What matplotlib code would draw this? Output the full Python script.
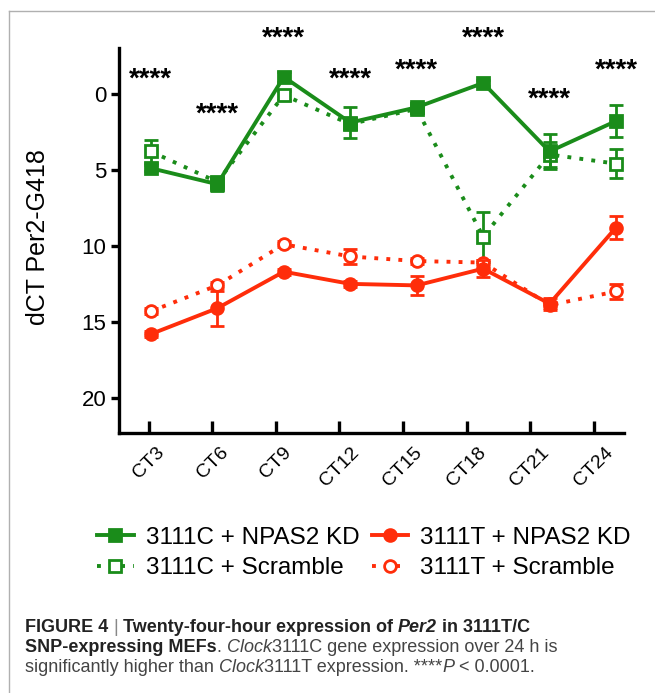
import numpy as np
import matplotlib
matplotlib.use("Agg")
import matplotlib.pyplot as plt
from matplotlib.lines import Line2D
from matplotlib.font_manager import FontProperties

plt.rcParams.update({
    "font.family": ["Liberation Sans", "DejaVu Sans"],
    "figure.dpi": 100,
})

W, H = 655, 693

# data (dCT, lower = higher expression)
times = ["CT3", "CT6", "CT9", "CT12", "CT15", "CT18", "CT21", "CT24"]

c_kd = [4.9, 5.95, -1.1, 1.9, 0.9, -0.7, 3.8, 1.8]
c_kd_err = [0.2, 0.45, 0.35, 1.0, 0.3, 0.2, 1.15, 1.05]
c_scr = [3.8, 5.8, 0.1, 2.0, 1.0, 9.4, 4.0, 4.6]
c_scr_err = [0.75, 0.3, 0.3, 0.3, 0.3, 1.65, 0.85, 0.95]

t_kd = [15.8, 14.1, 11.7, 12.5, 12.6, 11.5, 13.8, 8.8]
t_kd_err = [0.2, 1.15, 0.2, 0.2, 0.65, 0.55, 0.4, 0.75]
t_scr = [14.3, 12.6, 9.9, 10.7, 11.0, 11.1, 13.9, 13.0]
t_scr_err = [0.2, 0.2, 0.2, 0.5, 0.2, 0.2, 0.2, 0.5]

# height of the **** marks for each time point
star_y = [-0.9, 1.4, -3.6, -0.9, -1.5, -3.6, 0.4, -1.5]

GREEN = "#1a8c1a"
RED = "#ff2d0a"


def px(x, y):
    return x / W, 1 - y / H


fig = plt.figure(figsize=(W / 100, H / 100), dpi=100)

# frame of the figure panel (top and left edges only)
fig.add_artist(Line2D([9 / W, 1], [1 - 11 / H] * 2, color="#b0b0b0", lw=1.0))
fig.add_artist(Line2D([9 / W] * 2, [0, 1 - 11 / H], color="#b0b0b0", lw=1.0))

left, right, top, bottom = 119, 624, 48, 433
ax = fig.add_axes([left / W, 1 - bottom / H, (right - left) / W, (bottom - top) / H])

x = np.arange(len(times))
dot = (0, (1.0, 2.1))

# (values, errors, colour, linestyle, marker, face, label, z-order)
series = [
    (c_kd, c_kd_err, GREEN, "-", "s", GREEN, "3111C + NPAS2 KD", 6),
    (c_scr, c_scr_err, GREEN, dot, "s", "white", "3111C + Scramble", 4),
    (t_kd, t_kd_err, RED, "-", "o", RED, "3111T + NPAS2 KD", 6),
    (t_scr, t_scr_err, RED, dot, "o", "white", "3111T + Scramble", 4),
]

handles = []
for vals, err, col, ls, mk, face, lab, z in series:
    ax.errorbar(x, vals, yerr=err, fmt="none", ecolor=col, elinewidth=2,
                capsize=5, capthick=2, zorder=z - 1)
    line, = ax.plot(x, vals, color=col, linestyle=ls, lw=2.8,
                    dash_capstyle="butt", marker=mk, markersize=8.5,
                    markerfacecolor=face, markeredgecolor=col,
                    markeredgewidth=2, zorder=z, label=lab)
    handles.append(line)

for xi, sy in zip(x, star_y):
    ax.text(xi, sy, "****", ha="center", va="center", fontsize=20,
            fontweight="bold", clip_on=False)

ax.set_xlim(-0.48, 7.12)
ax.set_ylim(22.3, -3.0)

ax.spines["top"].set_visible(False)
ax.spines["right"].set_visible(False)
ax.spines["left"].set_linewidth(2.4)
ax.spines["bottom"].set_linewidth(2.4)

# tick marks in the original sit a bit off the data points
ax.set_xticks(x * 0.956 - 0.03)
ax.set_xticklabels(times, rotation=45, ha="center", va="top", fontsize=14)
ax.set_yticks([0, 5, 10, 15, 20])
ax.tick_params(axis="y", direction="out", length=6, width=2.4, labelsize=16, pad=3)
ax.tick_params(axis="x", direction="in", length=9, width=2.4, pad=8)

ax.set_ylabel("dCT Per2-G418", fontsize=18)
ax.yaxis.set_label_coords(-0.137, 0.51)

fig.legend(handles=handles, ncol=2, loc="center", bbox_to_anchor=px(364, 553),
           frameon=False, fontsize=17.5, handlelength=1.5, handletextpad=0.5,
           columnspacing=0.5, labelspacing=0.35)

# caption with mixed styles, placed run by run along a shared baseline
fig.canvas.draw()
renderer = fig.canvas.get_renderer()
CAP_SIZE = 13


def run_width(txt, weight, style):
    prop = FontProperties(family=["Liberation Sans"], size=CAP_SIZE,
                          weight=weight, style=style)
    w1, _, _ = renderer.get_text_width_height_descent("|" + txt + "|", prop, ismath=False)
    w0, _, _ = renderer.get_text_width_height_descent("||", prop, ismath=False)
    return w1 - w0


caption = [
    (632, [("FIGURE 4 ", "bold", "normal", "#222222"),
           ("|", "normal", "normal", "#888888"),
           (" Twenty-four-hour expression of ", "bold", "normal", "#222222"),
           ("Per2", "bold", "italic", "#222222"),
           (" in 3111T/C", "bold", "normal", "#222222")]),
    (652, [("SNP-expressing MEFs", "bold", "normal", "#222222"),
           (". ", "normal", "normal", "#444444"),
           ("Clock", "normal", "italic", "#444444"),
           ("3111C gene expression over 24 h is", "normal", "normal", "#444444")]),
    (672, [("significantly higher than ", "normal", "normal", "#444444"),
           ("Clock", "normal", "italic", "#444444"),
           ("3111T expression. ****", "normal", "normal", "#444444"),
           ("P", "normal", "italic", "#444444"),
           (" < 0.0001.", "normal", "normal", "#444444")]),
]

for ypx, runs in caption:
    xpx = 25
    for txt, weight, style, col in runs:
        fig.text(xpx / W, 1 - ypx / H, txt, fontsize=CAP_SIZE, fontweight=weight,
                 fontstyle=style, color=col, ha="left", va="baseline",
                 family=["Liberation Sans"])
        xpx += run_width(txt, weight, style)

fig.savefig("out.png", dpi=100)
